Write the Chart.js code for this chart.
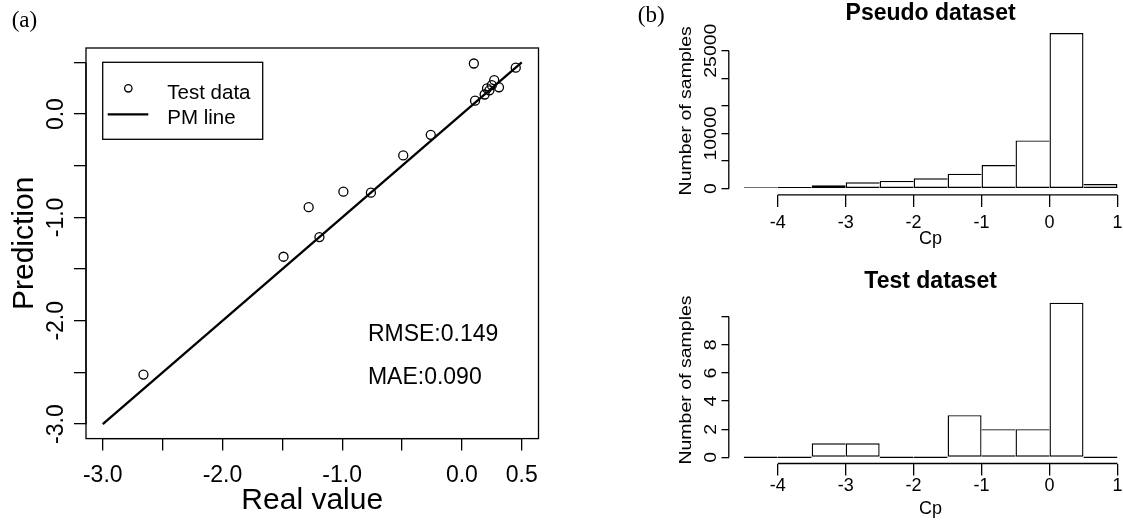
<!DOCTYPE html>
<html>
<head>
<meta charset="utf-8">
<script src="https://cdn.jsdelivr.net/npm/chart.js@4.4.1/dist/chart.umd.min.js"></script>
<style>
  html, body { margin: 0; padding: 0; background: #fff; width: 1123px; height: 525px; overflow: hidden; }
  canvas { position: absolute; }
  .tag { position: absolute; font-family: "Liberation Serif", "Times New Roman", serif; font-size: 23px; line-height: 23px; color: #000; }
</style>
</head>
<body>
<canvas id="scatterChart" width="560" height="525" style="left:0;top:0"></canvas>
<canvas id="pseudoChart" width="500" height="262" style="left:640px;top:0"></canvas>
<canvas id="testChart" width="500" height="263" style="left:640px;top:262px"></canvas>
<div class="tag" style="left:11.7px;top:8.4px">(a)</div>
<div class="tag" style="left:637.8px;top:3.4px">(b)</div>
<script>
// (a) test data: real value vs prediction
const realValue = [0.10, 0.45, 0.27, 0.25, 0.21, 0.23, 0.31, 0.19, 0.11, -0.26, -0.49, -0.99, -0.76, -1.28, -1.19, -1.49, -2.66];
const predValue = [0.49, 0.45, 0.33, 0.28, 0.25, 0.23, 0.26, 0.19, 0.13, -0.20, -0.40, -0.75, -0.76, -0.90, -1.19, -1.38, -2.52];
const pmLine = [-3, 0.5];
const axisLimA = [-3, 0.5];
const axisTicksA = [-3, -2.5, -2, -1.5, -1, -0.5, 0, 0.5];
const xTickLabelsA = ['-3.0', '', '-2.0', '', '-1.0', '', '0.0', '0.5'];
const yTickLabelsA = ['-3.0', '', '-2.0', '', '-1.0', '', '0.0', ''];
const rmse = '0.149';
const mae = '0.090';

// (b) histograms of Cp
const cpBreaks = [-4.5, -4, -3.5, -3, -2.5, -2, -1.5, -1, -0.5, 0, 0.5, 1];
const pseudoCounts = [60, 300, 600, 1150, 1400, 1870, 2720, 4290, 8750, 28200, 850];
const testCounts = [0, 0, 1, 1, 0, 0, 3, 2, 2, 11, 0];
const cpTicks = [-4, -3, -2, -1, 0, 1];
const cpTickLabels = ['-4', '-3', '-2', '-1', '0', '1'];
const pseudoTicks = [0, 5000, 10000, 15000, 20000, 25000];
const pseudoTickLabels = ['0', '', '10000', '', '', '25000'];
const testTicks = [0, 2, 4, 6, 8, 10];
const testTickLabels = ['0', '2', '4', '6', '8', ''];

Chart.defaults.font.family = '"Liberation Sans", Arial, sans-serif';
Chart.defaults.color = '#000';
const SANS = '"Liberation Sans", Arial, sans-serif';

function rotText(ctx, text, x, y, font, stretch) {
  ctx.save();
  ctx.translate(x, y);
  ctx.rotate(-Math.PI / 2);
  ctx.scale(stretch, 1);
  ctx.font = font;
  ctx.textAlign = 'center';
  ctx.textBaseline = 'alphabetic';
  ctx.fillText(text, 0, 0);
  ctx.restore();
}

// R style axes: line only from first to last tick, rotated y labels, box, legend, notes
const rAxis = {
  id: 'rAxis',
  afterDraw(chart, args, o) {
    const ctx = chart.ctx, a = chart.chartArea, xs = chart.scales.x, ys = chart.scales.y;
    const xt = xs.ticks, yt = ys.ticks;
    ctx.save();
    ctx.strokeStyle = '#000';
    ctx.fillStyle = '#000';
    ctx.lineWidth = o.lineWidth;
    ctx.beginPath();
    ctx.moveTo(xs.getPixelForValue(xt[0].value), a.bottom);
    ctx.lineTo(xs.getPixelForValue(xt[xt.length - 1].value), a.bottom);
    ctx.moveTo(a.left, ys.getPixelForValue(yt[0].value));
    ctx.lineTo(a.left, ys.getPixelForValue(yt[yt.length - 1].value));
    ctx.stroke();
    if (o.box) ctx.strokeRect(a.left, a.top, a.right - a.left, a.bottom - a.top);

    const yl = o.yLabels;
    yt.forEach(t => {
      if (t.label) rotText(ctx, t.label, a.left - yl.gap, ys.getPixelForValue(t.value), yl.font, yl.stretch);
    });
    const ttl = o.yTitle;
    rotText(ctx, ttl.text, ttl.x, (a.top + a.bottom) / 2, ttl.font, ttl.stretch);

    if (o.title) {
      ctx.font = o.title.font;
      ctx.textAlign = 'center';
      ctx.textBaseline = 'alphabetic';
      ctx.fillText(o.title.text, (a.left + a.right) / 2, o.title.y);
    }

    if (o.notes) {
      ctx.font = o.noteFont;
      ctx.textAlign = 'left';
      ctx.textBaseline = 'alphabetic';
      o.notes.forEach(n => ctx.fillText(n.text, xs.getPixelForValue(n.x), ys.getPixelForValue(n.y)));
    }

    if (o.legend) {
      const L = o.legend, x0 = a.left + L.dx, y0 = a.top + L.dy;
      const ds = chart.data.datasets;
      ctx.lineWidth = o.lineWidth;
      ctx.strokeRect(x0, y0, L.w, L.h);
      ctx.font = L.font;
      ctx.textAlign = 'left';
      ctx.textBaseline = 'alphabetic';
      ctx.beginPath();
      ctx.arc(x0 + 25.6, y0 + 26, L.r, 0, 2 * Math.PI);
      ctx.stroke();
      ctx.fillText(ds[0].label, x0 + 64.6, y0 + 37);
      ctx.lineWidth = ds[1].borderWidth;
      ctx.beginPath();
      ctx.moveTo(x0 + 5, y0 + 52);
      ctx.lineTo(x0 + 45.6, y0 + 52);
      ctx.stroke();
      ctx.fillText(ds[1].label, x0 + 64.6, y0 + 62);
    }
    ctx.restore();
  }
};

const gridStyle = (len) => ({ display: true, drawOnChartArea: false, drawTicks: true, tickLength: len, color: '#000', lineWidth: 1.3, offset: false });

// scatter
const extA = 0.04 * (axisLimA[1] - axisLimA[0]);
new Chart('scatterChart', {
  type: 'scatter',
  data: {
    datasets: [{
      label: 'Test data',
      data: realValue.map((x, i) => ({ x: x, y: predValue[i] })),
      pointStyle: 'circle',
      pointRadius: 4.5,
      borderWidth: 1.3,
      borderColor: '#000',
      backgroundColor: 'rgba(0,0,0,0)'
    }, {
      label: 'PM line',
      data: pmLine.map(v => ({ x: v, y: v })),
      showLine: true,
      borderColor: '#000',
      borderWidth: 2.3,
      pointRadius: 0,
      fill: false
    }]
  },
  options: {
    responsive: false,
    animation: false,
    events: [],
    layout: { padding: { left: 0, top: 48, right: 21.5, bottom: 0 } },
    plugins: {
      legend: { display: false },
      tooltip: { enabled: false },
      rAxis: {
        lineWidth: 1.3,
        box: true,
        yLabels: { font: '23px ' + SANS, gap: 22.7, stretch: 1 },
        yTitle: { text: 'Prediction', font: '30px ' + SANS, x: 33.3, stretch: 1 },
        legend: { dx: 16.7, dy: 14.3, w: 160, h: 77, font: '20.5px ' + SANS, r: 3.7 },
        noteFont: '23px ' + SANS,
        notes: [{ text: 'RMSE:' + rmse, x: -0.785, y: -2.2 }, { text: 'MAE:' + mae, x: -0.785, y: -2.61 }]
      }
    },
    scales: {
      x: {
        type: 'linear',
        min: axisLimA[0] - extA,
        max: axisLimA[1] + extA,
        afterBuildTicks: s => { s.ticks = axisTicksA.map(v => ({ value: v })); },
        afterFit: s => { s.height = 86.4; },
        ticks: { autoSkip: false, maxRotation: 0, minRotation: 0, padding: 10.8, font: { size: 23 }, color: '#000',
          callback: (v, i) => xTickLabelsA[i] },
        grid: gridStyle(12),
        border: { display: false },
        title: { display: true, text: 'Real value', font: { size: 30 }, color: '#000', padding: { top: 0, bottom: 6.3 } }
      },
      y: {
        type: 'linear',
        min: axisLimA[0] - extA,
        max: axisLimA[1] + extA,
        afterBuildTicks: s => { s.ticks = axisTicksA.map(v => ({ value: v })); },
        afterFit: s => { s.width = 86; },
        ticks: { display: false, callback: (v, i) => yTickLabelsA[i] },
        grid: gridStyle(12),
        border: { display: false }
      }
    }
  },
  plugins: [rAxis]
});

// each shared bin edge is drawn once, by the taller bar
function histEdges(bw) {
  return ctx => {
    const d = ctx.dataset.data, i = ctx.dataIndex;
    if (i === undefined) return bw;
    const v = d[i].y;
    const prev = i > 0 ? d[i - 1].y : -Infinity;
    const next = i < d.length - 1 ? d[i + 1].y : -Infinity;
    return { top: bw, bottom: bw, left: prev <= v ? bw : 0, right: next < v ? bw : 0 };
  };
}

function histogram(id, counts, yTicks, yLabels, title, lay) {
  const ext = 0.04 * (cpBreaks[cpBreaks.length - 1] - cpBreaks[0]);
  const top = Math.max(...counts);
  return new Chart(id, {
    type: 'bar',
    data: {
      datasets: [{
        data: counts.map((c, i) => ({ x: (cpBreaks[i] + cpBreaks[i + 1]) / 2, y: c })),
        backgroundColor: '#fff',
        borderColor: '#000',
        borderWidth: histEdges(1.4),
        borderSkipped: false,
        inflateAmount: 0,
        minBarLength: 1.4,
        barPercentage: 1,
        categoryPercentage: 1
      }]
    },
    options: {
      responsive: false,
      animation: false,
      events: [],
      layout: { padding: { left: 0, top: lay.top, right: 7.6, bottom: 0 } },
      plugins: {
        legend: { display: false },
        tooltip: { enabled: false },
        rAxis: {
          lineWidth: 1.3,
          yLabels: { font: '16px ' + SANS, gap: 12.8, stretch: 1.22 },
          yTitle: { text: 'Number of samples', font: '16px ' + SANS, x: 50.6, stretch: 1.22 },
          title: { text: title, font: 'bold 23px ' + SANS, y: lay.titleY }
        }
      },
      scales: {
        x: {
          type: 'linear',
          offset: false,
          min: cpBreaks[0] - ext,
          max: cpBreaks[cpBreaks.length - 1] + ext,
          afterBuildTicks: s => { s.ticks = cpTicks.map(v => ({ value: v })); },
          afterFit: s => { s.height = lay.xHeight; },
          ticks: { autoSkip: false, maxRotation: 0, minRotation: 0, padding: lay.tickPad, font: { size: 18 }, color: '#000',
            callback: (v, i) => cpTickLabels[i] },
          grid: gridStyle(12),
          border: { display: false },
          title: { display: true, text: 'Cp', font: { size: 18 }, color: '#000', padding: { top: 0, bottom: lay.cpPad } }
        },
        y: {
          type: 'linear',
          min: -0.04 * top,
          max: 1.04 * top,
          afterBuildTicks: s => { s.ticks = yTicks.map(v => ({ value: v })); },
          afterFit: s => { s.width = 88.8; },
          ticks: { display: false, callback: (v, i) => yLabels[i] },
          grid: gridStyle(7.3),
          border: { display: false }
        }
      }
    },
    plugins: [rAxis]
  });
}

histogram('pseudoChart', pseudoCounts, pseudoTicks, pseudoTickLabels, 'Pseudo dataset',
  { top: 26.8, xHeight: 67.1, titleY: 20, tickPad: 5.2, cpPad: 11.8 });
histogram('testChart', testCounts, testTicks, testTickLabels, 'Test dataset',
  { top: 34.5, xHeight: 61.5, titleY: 26.3, tickPad: 0, cpPad: 5.3 });
</script>
</body>
</html>
